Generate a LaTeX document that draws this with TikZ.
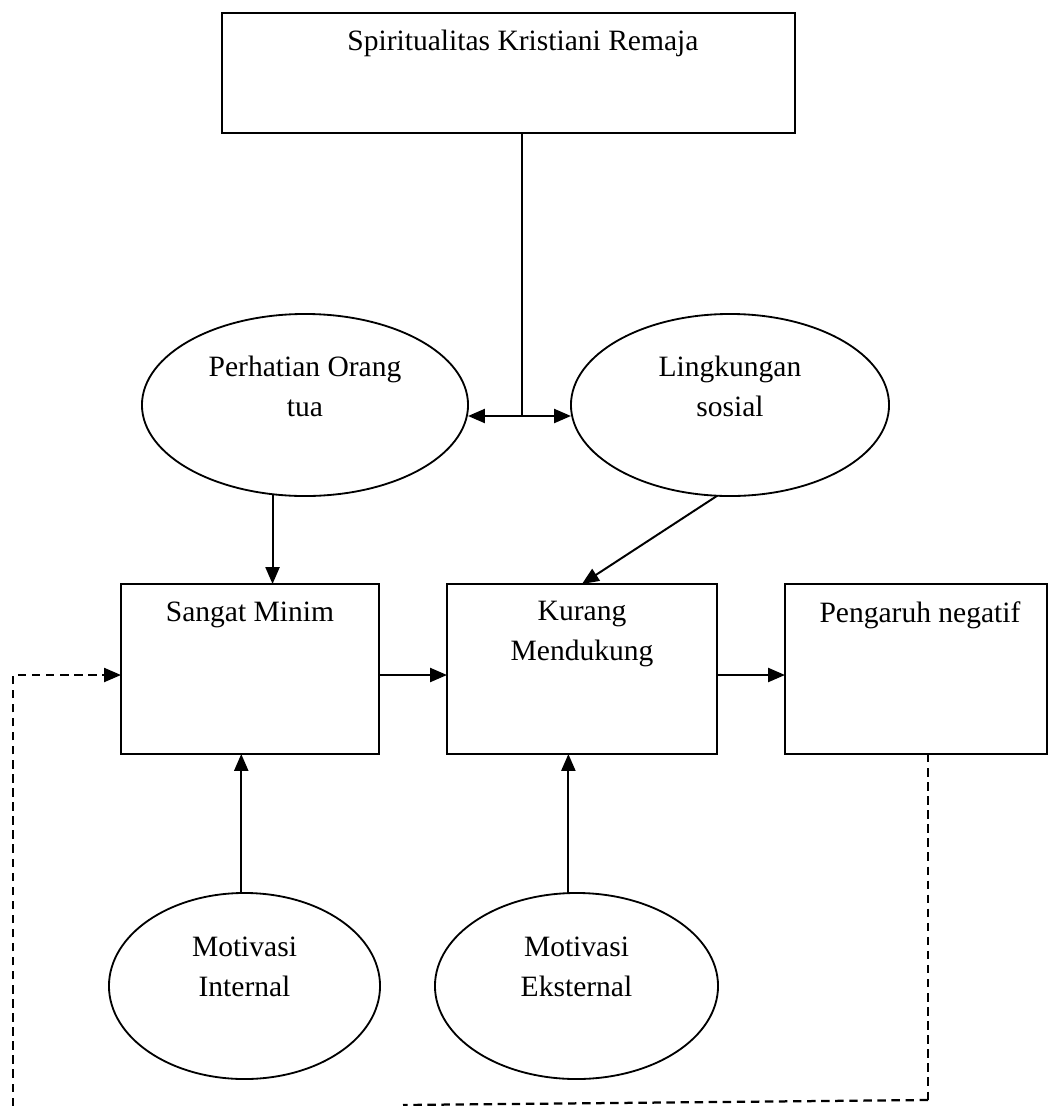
\documentclass[tikz,border=0pt]{standalone}
\usepackage{fontspec}
\setmainfont{Liberation Serif}
\usepackage{tikz}
\usetikzlibrary{arrows.meta,shapes.geometric}

\tikzset{
  box/.style={draw, line width=1.4pt, minimum height=4.25cm, inner sep=0pt, outer sep=0pt},
  oval/.style={draw, ellipse, line width=1.3pt, minimum height=4.6cm, inner sep=0pt, outer sep=0pt},
  boxtext/.style={anchor=north, inner sep=0pt, yshift=-0.43cm, align=center},
  ovaltext/.style={inner sep=0pt, yshift=0.47cm, align=center},
  tip/.style={-{Triangle[length=12pt,width=10pt]}},
  arr/.style={line width=1.4pt, tip},
  fbline/.style={line width=1.1pt, dash pattern=on 6pt off 4pt},
}

\begin{document}
\begin{tikzpicture}[x=0.025cm, y=-0.025cm, font=\fontsize{21}{28.4}\selectfont]
        \useasboundingbox (0,0) rectangle (1048,1106);

        %%% TOP BOX %%%
        \node[box, minimum width=14.33cm, minimum height=3cm] (spirit) at (508.5,73) {};
        \node[boxtext, xshift=0.36cm] (spirit-t) at (spirit.north) {Spiritualitas Kristiani Remaja};

        %%% OVALS %%%
        \node[oval, minimum width=8.15cm, minimum height=4.55cm] (perhatian) at (305,405) {};
        \node[ovaltext] (perhatian-t) at (perhatian.center) {Perhatian Orang\\tua};
        \node[oval, minimum width=7.95cm, minimum height=4.55cm] (lingkungan) at (730,405) {};
        \node[ovaltext] (lingkungan-t) at (lingkungan.center) {Lingkungan\\sosial};
        \node[oval, minimum width=6.775cm, minimum height=4.65cm] (internal) at (244.5,986) {};
        \node[ovaltext] (internal-t) at (internal.center) {Motivasi\\Internal};
        \node[oval, minimum width=7.075cm, minimum height=4.65cm] (eksternal) at (576.5,986) {};
        \node[ovaltext] (eksternal-t) at (eksternal.center) {Motivasi\\Eksternal};

        %%% BOXES %%%
        \node[box, minimum width=6.45cm] (sangat) at (250,669) {};
        \node[boxtext] (sangat-t) at (sangat.north) {Sangat Minim};
        \node[box, minimum width=6.75cm] (kurang) at (582,669) {};
        \node[boxtext] (kurang-t) at (kurang.north) {Kurang\\Mendukung};
        \node[box, minimum width=6.55cm] (pengaruh) at (916,669) {};
        \node[boxtext, xshift=0.1cm] (pengaruh-t) at (pengaruh.north) {Pengaruh negatif};

        %%% COORDINATES %%%
        \coordinate (split) at (522,416);
        \coordinate (mid) at (0,675);
        \coordinate (fb1) at (928,1100);
        \coordinate (fb2) at (403,1105);
        \coordinate (fb3) at (13,1106);

        %%% LINES %%%
        \draw[line width=1.4pt] (spirit.south -| split) -- (split);
        \draw[arr] (split) -- (split -| perhatian.east);
        \draw[arr] (split) -- (split -| lingkungan.west);
        \draw[arr] (perhatian.-110) -- (perhatian.-110 |- sangat.north);
        \draw[arr] (lingkungan.-98) -- (kurang.north);
        \draw[arr] (sangat.east |- mid) -- (kurang.west |- mid);
        \draw[arr] (kurang.east |- mid) -- (pengaruh.west |- mid);
        \draw[arr] (internal.92) -- (internal.92 |- sangat.south);
        \draw[arr] (eksternal.95) -- (eksternal.95 |- kurang.south);

        %%% FEEDBACK %%%
        \draw[fbline] (pengaruh.south -| fb1) -- (fb1);
        \draw[fbline, line width=1.6pt] (fb1) -- (fb2);
        \draw[fbline, line width=1.3pt, tip] (fb3) |- (sangat.west |- mid);
\end{tikzpicture}
\end{document}
